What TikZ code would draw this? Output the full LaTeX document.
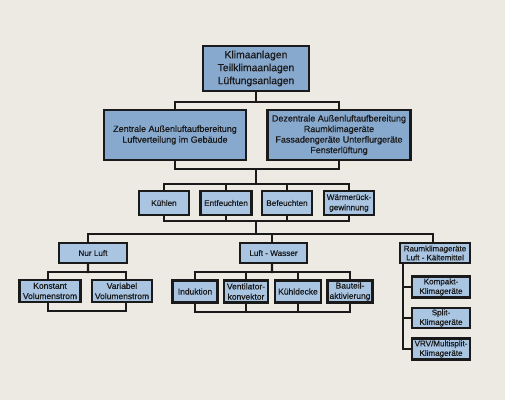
\documentclass[tikz,border=0pt]{standalone}
\usepackage{fontspec}
\setmainfont{Liberation Sans}[FakeBold=0.6]
\usetikzlibrary{backgrounds}
\definecolor{bg}{HTML}{EDE9E3}
\definecolor{bdark}{HTML}{88A9CE}
\definecolor{blight}{HTML}{A9C5E2}
\definecolor{ink}{HTML}{1A1A1A}
\begin{document}
\begin{tikzpicture}[x=1bp,y=-1bp,
  box/.style={draw=ink, line width=2.2bp, inner sep=0pt, align=center, text=ink},
  big/.style={box, fill=bdark, font=\fontsize{10.4}{13}\selectfont},
  mid/.style={box, fill=bdark, font=\fontsize{9}{10.8}\selectfont},
  sm/.style={box, fill=blight, font=\fontsize{8.2}{10.3}\selectfont},
  sml/.style={box, fill=blight, font=\fontsize{8.5}{10.3}\selectfont},
  smr/.style={box, fill=blight, font=\fontsize{8.1}{9.6}\selectfont},
  con/.style={line width=2.2bp, draw=ink, line cap=rect}]
\useasboundingbox (0,0) rectangle (505,400);
% level 1
\node[big, minimum width=106bp, minimum height=45bp] (top) at (256,68.5) {Klimaanlagen\\Teilklimaanlagen\\Lüftungsanlagen};
% level 2
\node[mid, minimum width=142bp, minimum height=50bp] (zen) at (175,135) {Zentrale Außenluftaufbereitung\\Luftverteilung im Gebäude};
\node[mid, minimum width=143bp, minimum height=50bp, font=\fontsize{9}{10.6}\selectfont] (dez) at (339,135) {Dezentrale Außenluftaufbereitung\\Raumklimageräte\\Fassadengeräte Unterflurgeräte\\Fensterlüftung};
% level 3
\node[sm, minimum width=50bp, minimum height=24bp] (kue) at (164,203) {Kühlen};
\node[sm, minimum width=51bp, minimum height=24bp] (ent) at (226,203) {Entfeuchten};
\node[sm, minimum width=50bp, minimum height=24bp] (bef) at (287,203) {Befeuchten};
\node[sm, minimum width=50bp, minimum height=24bp] (wrg) at (349,203) {Wärmerück-\\gewinnung};
% level 4
\node[sm, minimum width=68bp, minimum height=20bp] (nur) at (93,253) {Nur Luft};
\node[sm, minimum width=67bp, minimum height=20bp] (lw) at (273.5,253) {Luft - Wasser};
\node[smr, minimum width=70bp, minimum height=20bp, font=\fontsize{8}{9}\selectfont] (rk) at (435,253) {Raumklimageräte\\Luft - Kältemittel};
% level 5
\node[sml, minimum width=61bp, minimum height=22bp] (kon) at (50,291) {Konstant\\Volumenstrom};
\node[sml, minimum width=60bp, minimum height=22bp] (var) at (122,291) {Variabel\\Volumenstrom};
\node[sml, minimum width=45bp, minimum height=22bp] (ind) at (195,291.5) {Induktion};
\node[sml, minimum width=44bp, minimum height=22bp] (ven) at (246,291.5) {Ventilator-\\konvektor};
\node[sml, minimum width=46bp, minimum height=22bp] (kd) at (298,291.5) {Kühldecke};
\node[sml, minimum width=45bp, minimum height=22bp] (bt) at (350,291.5) {Bauteil-\\aktivierung};
% right column
\node[smr, minimum width=58bp, minimum height=21bp] (kom) at (441,287) {Kompakt-\\Klimageräte};
\node[smr, minimum width=58bp, minimum height=20bp] (spl) at (441,318) {Split-\\Klimageräte};
\node[smr, minimum width=58bp, minimum height=21bp] (vrv) at (441,349) {VRV/Multisplit-\\Klimageräte};

\begin{pgfonlayer}{background}
\fill[bg] (0,0) rectangle (505,400);
% top to level 2
\coordinate (b1) at (256,102);
\draw[con] (top.south) -- (b1);
\draw[con] (zen.north) |- (b1) -| (dez.north);
\coordinate (b2) at (256,169);
\draw[con] (zen.south) |- (b2) -| (dez.south);
\coordinate (b3) at (256,184);
\draw[con] (b2) -- (b3);
\draw[con] (kue.north) |- (b3) -| (wrg.north);
\draw[con] (ent.north) -- (ent.north |- b3);
\draw[con] (bef.north) -- (bef.north |- b3);
\coordinate (b4) at (256,221);
\draw[con] (kue.south) |- (b4) -| (wrg.south);
\draw[con] (ent.south) -- (ent.south |- b4);
\draw[con] (bef.south) -- (bef.south |- b4);
\coordinate (b5) at (256,234);
\draw[con] (b4) -- (b5);
\draw[con] ([xshift=-5bp]nur.north) |- (b5) -| ([xshift=-2bp]rk.north);
\draw[con] ([xshift=-1.5bp]lw.north) -- ([xshift=-1.5bp]lw.north |- b5);
% Nur Luft group
\coordinate (n1) at (88,272);
\coordinate (n2) at (88,311);
\draw[con] ([xshift=-5bp]nur.south) -- (n1);
\draw[con] ([xshift=-2bp]kon.north) |- (n1) -| ([xshift=4bp]var.north);
\draw[con] ([xshift=-2bp]kon.south) |- (n2) -| ([xshift=4bp]var.south);
% Luft-Wasser group
\coordinate (w1) at (272,272);
\coordinate (w2) at (272,312);
\draw[con] ([xshift=-1.5bp]lw.south) -- (w1);
\draw[con] (ind.north) |- (w1) -| (bt.north);
\draw[con] (ven.north) -- (ven.north |- w1);
\draw[con] (kd.north) -- (kd.north |- w1);
\draw[con] (ind.south) |- (w2) -| (bt.south);
\draw[con] (ven.south) -- (ven.south |- w2);
\draw[con] (kd.south) -- (kd.south |- w2);
% Raumklima group
\coordinate (rs) at ([xshift=4bp]rk.south west);
\draw[con] (rs) |- (vrv.west);
\draw[con] (kom.west) -- (kom.west -| rs);
\draw[con] (spl.west) -- (spl.west -| rs);
\end{pgfonlayer}
\end{tikzpicture}
\end{document}
